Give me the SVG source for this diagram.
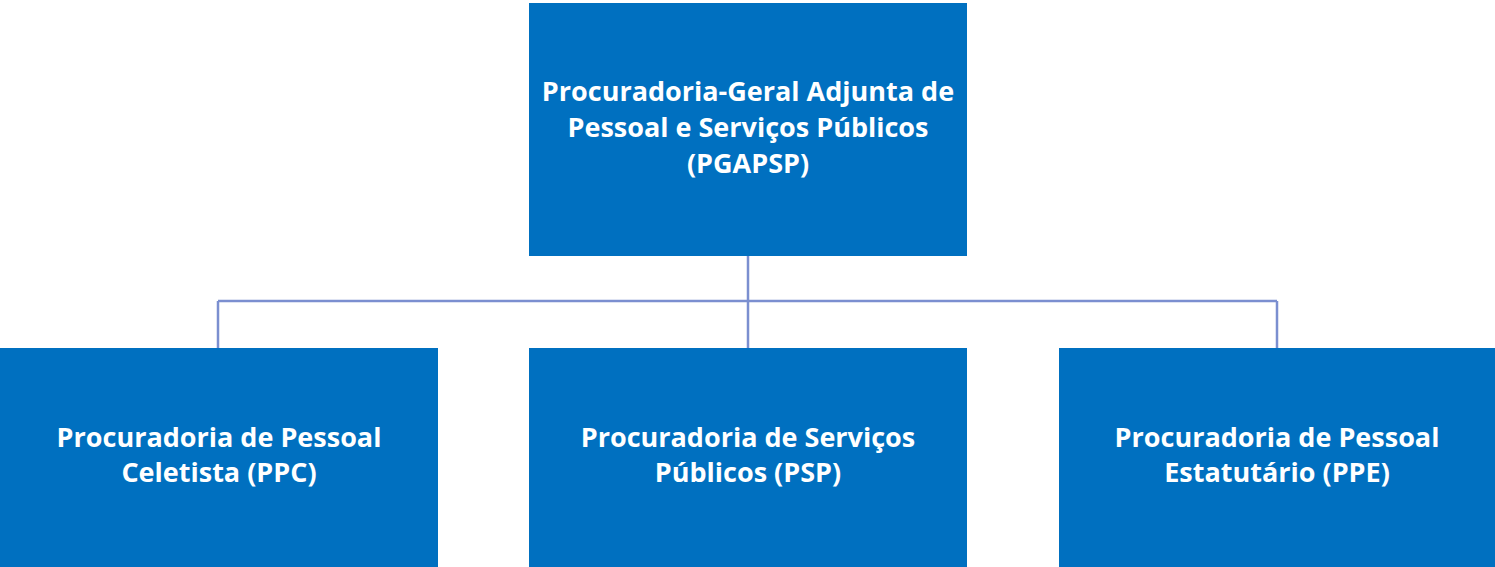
<svg xmlns="http://www.w3.org/2000/svg" width="1495" height="567" viewBox="0 0 1495 567">
<style>
.box{fill:#0070C0}
.t{font-family:"Open Sans",Lato,sans-serif;font-weight:bold;font-size:27px;fill:#fff;text-anchor:middle}
.c{stroke:#7B8FD0;stroke-width:2.5;fill:none}
</style>
<rect width="1495" height="567" fill="#fff"/>
<g id="connectors">
<path class="c" d="M748 256V348M218 301H1277M218 301V348M1277 301V348"/>
</g>
<g id="pgapsp">
<rect class="box" x="529" y="3" width="438" height="253"/>
<text class="t" x="748" y="101">Procuradoria-Geral Adjunta de</text>
<text class="t" x="748" y="137">Pessoal e Serviços Públicos</text>
<text class="t" x="748" y="173">(PGAPSP)</text>
</g>
<g id="ppc">
<rect class="box" x="0" y="348" width="438" height="219"/>
<text class="t" x="219" y="447">Procuradoria de Pessoal</text>
<text class="t" x="219" y="482">Celetista (PPC)</text>
</g>
<g id="psp">
<rect class="box" x="529" y="348" width="438" height="219"/>
<text class="t" x="748" y="447">Procuradoria de Serviços</text>
<text class="t" x="748" y="482">Públicos (PSP)</text>
</g>
<g id="ppe">
<rect class="box" x="1059" y="348" width="436" height="219"/>
<text class="t" x="1277" y="447">Procuradoria de Pessoal</text>
<text class="t" x="1277" y="482">Estatutário (PPE)</text>
</g>
</svg>
